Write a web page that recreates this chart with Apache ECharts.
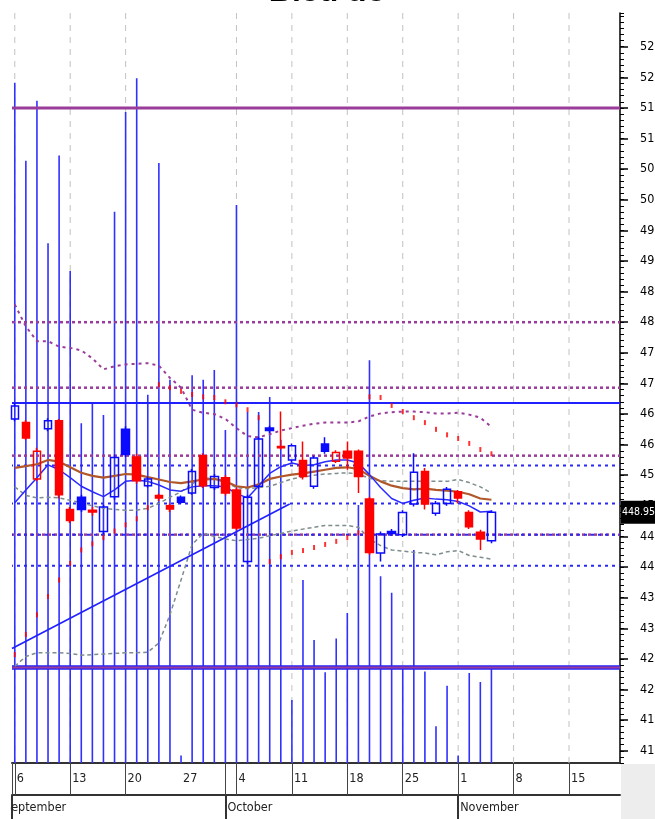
<!DOCTYPE html>
<html><head><meta charset="utf-8">
<script src="https://cdn.jsdelivr.net/npm/echarts@6/dist/echarts.min.js"></script>
<style>html,body{margin:0;padding:0;background:#fff}#c{width:655px;height:819px}</style>
</head><body><div id="c"></div>
<script>
// ---- data ----
const dates = [
 '2010-09-06','2010-09-07','2010-09-08','2010-09-09','2010-09-10',
 '2010-09-13','2010-09-14','2010-09-15','2010-09-16','2010-09-17',
 '2010-09-20','2010-09-21','2010-09-22','2010-09-23','2010-09-24',
 '2010-09-27','2010-09-28','2010-09-29','2010-09-30','2010-10-01',
 '2010-10-04','2010-10-05','2010-10-06','2010-10-07','2010-10-08',
 '2010-10-11','2010-10-12','2010-10-13','2010-10-14','2010-10-15',
 '2010-10-18','2010-10-19','2010-10-20','2010-10-21','2010-10-22',
 '2010-10-25','2010-10-26','2010-10-27','2010-10-28','2010-10-29',
 '2010-11-01','2010-11-02','2010-11-03','2010-11-04','2010-11-05',
 '2010-11-08','2010-11-09','2010-11-10','2010-11-11','2010-11-12',
 '2010-11-15','2010-11-16','2010-11-17','2010-11-18','2010-11-19'];
const monthNames = ['January','February','March','April','May','June','July','August','September','October','November','December'];
const opens  = [464.2,463.6,454.4,462.6,463.9,449.4,451.4,449.3,445.8,451.5,462.5,458.0,453.3,451.7,450.0,451.4,452.1,458.2,453.0,454.6,452.6,440.9,453.2,462.7,459.7,457.5,457.4,453.2,460.1,457.3,458.9,458.9,451.1,442.3,445.8,445.3,450.3,455.6,448.8,450.4,452.3,448.9,445.7,444.3];
const closes = [466.3,461.1,458.9,463.9,451.8,447.6,449.4,449.0,449.8,457.9,458.4,454.1,454.4,451.3,449.5,450.6,455.6,453.3,454.8,452.1,446.4,451.4,460.9,462.3,459.5,459.8,454.8,457.8,458.9,458.7,457.8,454.8,442.4,445.4,445.5,448.9,455.5,450.3,450.4,452.7,451.3,446.6,444.6,448.95];
const lows   = [463.8,460.8,454.0,462.2,451.2,447.2,449.0,448.4,445.4,451.0,458.0,453.6,453.0,450.8,449.0,450.3,451.8,452.9,452.6,451.7,446.0,440.5,452.8,461.9,459.2,457.1,454.3,452.8,458.5,457.0,455.9,452.1,442.0,440.9,445.1,444.9,449.9,449.4,448.4,450.0,450.4,446.2,442.8,443.9];
const highs  = [466.8,464.0,459.5,464.3,464.2,449.8,451.8,449.8,450.2,458.4,463.0,458.5,454.8,452.0,450.4,451.7,456.0,458.6,455.2,455.0,453.0,451.8,461.3,463.1,465.4,460.2,460.5,458.2,461.2,459.1,460.5,459.2,451.5,445.8,446.2,449.3,458.6,456.2,450.8,453.1,452.6,449.3,446.1,449.3];
const volumes = [90.7,80.3,88.3,69.3,81.0,65.6,45.3,48.0,46.4,73.5,86.8,91.3,49.1,80.0,51.1,1.0,51.7,51.1,52.4,44.4,74.4,46.8,46.8,48.8,43.1,8.4,24.4,16.4,12.1,16.6,20.0,34.4,53.7,24.9,22.7,12.6,28.4,12.2,4.9,10.3,1.0,12.0,10.8,12.8];
const maFast = [450.5,452.6,454.6,456.7,455.9,454.6,453.2,452.3,451.5,452.6,454.0,454.2,454.0,453.4,452.6,452.4,453.1,453.3,453.3,453.1,452.0,451.3,453.3,455.3,456.4,457.0,456.6,456.7,457.2,457.5,457.5,457.0,455.1,453.0,451.2,450.4,450.9,451.3,451.1,451.0,450.7,450.0,449.0,449.1];
const maSlow = [456.2,456.5,456.8,457.5,457.2,456.3,455.4,454.9,454.6,454.9,455.2,455.1,454.7,454.3,453.9,453.7,454.0,454.3,454.4,454.0,453.2,453.0,453.5,454.4,454.8,455.1,455.3,455.6,455.9,456.2,456.3,456.0,454.9,454.0,453.3,452.9,452.7,452.8,452.6,452.5,452.3,451.9,451.2,451.0];
const bbUpper = [482.9,479.3,476.9,476.9,476.0,475.8,475.4,474.1,472.3,472.8,473.1,473.2,473.3,472.9,470.9,469.3,465.7,465.2,465.0,464.2,462.7,461.4,461.2,461.7,462.3,462.7,463.1,463.4,463.6,463.6,463.6,463.8,464.6,465.1,465.3,465.4,465.4,465.3,465.1,465.1,465.2,464.9,464.4,462.9];
const bbMiddle = [453.1,451.7,451.3,451.4,451.3,450.9,450.5,450.0,449.6,449.4,449.3,449.3,449.6,450.4,451.4,452.3,453.6,454.6,454.4,453.8,453.0,452.8,453.0,453.2,453.8,454.4,454.7,455.0,455.2,455.3,455.4,455.2,454.5,454.1,454.0,454.0,454.0,454.0,454.0,454.0,454.3,453.8,453.1,452.1];
const bbLower = [423.8,425.4,426.0,426.0,426.0,425.9,425.6,425.7,425.8,425.9,426.0,426.0,426.1,427.6,432.2,437.9,443.7,445.5,445.0,444.6,444.3,444.5,444.7,445.1,445.5,445.9,446.2,446.5,446.8,446.8,446.8,446.5,444.6,443.5,442.8,442.6,442.4,442.3,442.0,442.5,442.7,441.9,441.6,441.3];
const sar = [425.7,429.0,432.2,435.2,437.9,440.6,442.8,443.8,444.8,445.9,446.9,447.9,449.7,469.8,469.3,468.7,468.2,467.8,467.7,467.0,466.5,465.7,464.4,440.9,441.7,442.4,442.7,443.2,443.7,444.2,444.8,445.6,467.8,467.7,466.4,465.4,464.4,463.6,462.5,461.6,461.0,460.2,459.2,458.5];
const trendLine = [[-0.25, 426.7], [24.8, 450.3]];
const purpleSolidLevels = [515.0, 423.6];
const purpleDottedLevels = [480.0, 469.3, 458.2, 445.3];
const blueSolidLevels = [466.8, 423.6];
const blueDottedLevels = [456.6, 450.4, 445.3, 440.2];
const priceTicks = [410,415,420,425,430,435,440,445,450,455,460,465,470,475,480,485,490,495,500,505,510,515,520,525];

// ---- derived ----
const X_MIN = -0.25, X_MAX = 54.6, Y_MIN = 408, Y_MAX = 530.5;
const BLUE = '#0a0aff', RED = '#ff0000', PURPLE = '#9a3c9a', GREY = '#7d8c8c';
const NARROW = '"DejaVu Sans Condensed","Liberation Sans",sans-serif';
const dObj = dates.map(d => new Date(d + 'T00:00:00Z'));
const mondays = [], monthStarts = [];
dObj.forEach((d, i) => {
  if (d.getUTCDay() === 1) mondays.push(i);
  if (i > 0 && d.getUTCMonth() !== dObj[i - 1].getUTCMonth()) monthStarts.push(i);
});
const separators = mondays.filter(m => !monthStarts.some(s => s > m && s <= m + 4));
const lastClose = closes[closes.length - 1];

const candleData = opens.map((o, i) => {
  const c = closes[i];
  const prev = i > 0 ? closes[i - 1] : o;
  const col = c >= prev ? BLUE : RED;
  const fill = c < o ? col : 'rgba(0,0,0,0)';
  return { value: [i, o, c, lows[i], highs[i]],
    itemStyle: { color: fill, color0: fill, borderColor: col, borderColor0: col, borderWidth: 1.5 } };
});
const idx = arr => arr.map((v, i) => [i, v]);

const series = [];
separators.forEach(m => series.push({ type: 'line', data: [[m, Y_MIN], [m, Y_MAX]], symbol: 'none', silent: true, z: 0,
  lineStyle: { color: '#c2c2c2', width: 1, type: [6, 6] } }));
series.push({ type: 'bar', yAxisIndex: 2, data: idx(volumes), barWidth: 1.6, itemStyle: { color: '#3030ff' }, silent: true, z: 1 });
const hline = (lvl, style, z) => series.push({ type: 'line', data: [[X_MIN, lvl], [X_MAX, lvl]], symbol: 'none', silent: true, z, lineStyle: style });
blueSolidLevels.forEach(l => hline(l, { color: '#2020ff', width: l < 430 ? 4.5 : 2 }, 2));
purpleSolidLevels.forEach(l => hline(l, { color: PURPLE, width: l < 430 ? 2 : 3 }, 2));
purpleDottedLevels.forEach(l => hline(l, { color: PURPLE, width: 2.5, type: [3, 3] }, 2));
blueDottedLevels.forEach(l => hline(l, { color: '#2a2af0', width: 2, type: [3, 4], dashOffset: 2 }, 2));
series.push({ type: 'line', data: idx(bbUpper), symbol: 'none', silent: true, z: 3, lineStyle: { color: PURPLE, width: 2, type: [3, 4] } });
series.push({ type: 'line', data: idx(bbMiddle), symbol: 'none', silent: true, z: 3, lineStyle: { color: GREY, width: 1.5, type: [4, 3] } });
series.push({ type: 'line', data: idx(bbLower), symbol: 'none', silent: true, z: 3, lineStyle: { color: GREY, width: 1.5, type: [4, 3] } });
series.push({ type: 'line', data: idx(maSlow), symbol: 'none', silent: true, z: 4, lineStyle: { color: '#b0582a', width: 2.2 } });
series.push({ type: 'line', data: idx(maFast), symbol: 'none', silent: true, z: 4, lineStyle: { color: '#2a2aff', width: 1.5 } });
series.push({ type: 'line', data: trendLine, symbol: 'none', silent: true, z: 4, lineStyle: { color: '#2020ff', width: 1.6 } });
series.push({ type: 'candlestick', data: candleData, encode: { x: 0, y: [1, 2, 3, 4] }, barWidth: 8, z: 5, silent: true });
series.push({ type: 'scatter', data: idx(sar), symbol: 'rect', symbolSize: [2, 5], itemStyle: { color: RED }, silent: true, z: 6 });
series.push({ type: 'line', data: [[closes.length - 1, lastClose], [X_MAX, lastClose]], symbol: 'none', silent: true, z: 10,
  lineStyle: { opacity: 0 },
  endLabel: { show: true, formatter: () => lastClose.toFixed(3), color: '#fff', backgroundColor: '#000',
    fontFamily: NARROW, fontSize: 10.5, padding: [8, 2, 4, 1], distance: 1 } });

const xBase = { type: 'value', min: X_MIN, max: X_MAX, gridIndex: 0, position: 'bottom', splitLine: { show: false } };
const labelFont = { fontSize: 12.5, fontFamily: NARROW, color: '#222' };
const option = {
  animation: false,
  title: { text: 'Biểu đồ', left: 'center', top: -29,
    textStyle: { fontSize: 32, fontWeight: 'bold', color: '#000', fontFamily: 'Liberation Sans, Arial, sans-serif' } },
  grid: { left: 12, right: 35, top: 13, bottom: 56, containLabel: false, outerBoundsMode: 'none' },
  xAxis: [
    Object.assign({}, xBase, {
      axisLine: { onZero: false, lineStyle: { color: '#333', width: 2 } },
      axisTick: { customValues: [X_MIN].concat(separators, monthStarts), length: 32, lineStyle: { color: '#444', width: 1 } },
      axisLabel: Object.assign({ customValues: mondays, formatter: v => String(dObj[Math.round(v)].getUTCDate()),
        align: 'left', margin: 9, padding: [0, 0, 0, 2] }, labelFont) }),
    Object.assign({}, xBase, { offset: 32,
      axisLine: { onZero: false, lineStyle: { color: '#333', width: 2 } },
      axisTick: { customValues: [X_MIN].concat(monthStarts), length: 24, lineStyle: { color: '#333', width: 2 } },
      axisLabel: Object.assign({ customValues: [X_MIN], formatter: () => monthNames[dObj[0].getUTCMonth()],
        align: 'left', margin: 6, padding: [0, 0, 0, -8] }, labelFont) }),
    Object.assign({}, xBase, { offset: 32,
      axisLine: { show: false, onZero: false }, axisTick: { show: false },
      axisLabel: Object.assign({ customValues: monthStarts, formatter: v => monthNames[dObj[Math.round(v)].getUTCMonth()],
        align: 'left', margin: 6, padding: [0, 0, 0, 2] }, labelFont) })
  ],
  yAxis: [
    { type: 'value', position: 'right', min: Y_MIN, max: Y_MAX, interval: 1,
      axisLine: { show: true, onZero: false, lineStyle: { color: '#000', width: 1.5 } },
      axisTick: { show: true, length: 4, lineStyle: { color: '#000', width: 1 } },
      axisLabel: { formatter: v => (priceTicks.indexOf(v) >= 0 ? String(v) : ''), margin: 20, fontSize: 12.5, fontFamily: NARROW, color: '#000' },
      splitLine: { show: false } },
    { type: 'value', position: 'right', min: Y_MIN, max: Y_MAX,
      axisLine: { show: false, onZero: false },
      axisTick: { show: true, customValues: priceTicks, length: 8, lineStyle: { color: '#000', width: 1.5 } },
      axisLabel: { show: false }, splitLine: { show: false } },
    { type: 'value', position: 'right', min: 0, max: 100, show: false, axisLine: { onZero: false }, splitLine: { show: false } }
  ],
  graphic: [
    { type: 'rect', shape: { x: 621, y: 764, width: 34, height: 55 }, style: { fill: '#ededed' }, z: 1 },
    { type: 'rect', shape: { x: 0, y: 797, width: 10.8, height: 22 }, style: { fill: '#fff' }, z: 100 }
  ],
  series
};
const chart = echarts.init(document.getElementById('c'));
chart.setOption(option);
</script></body></html>
